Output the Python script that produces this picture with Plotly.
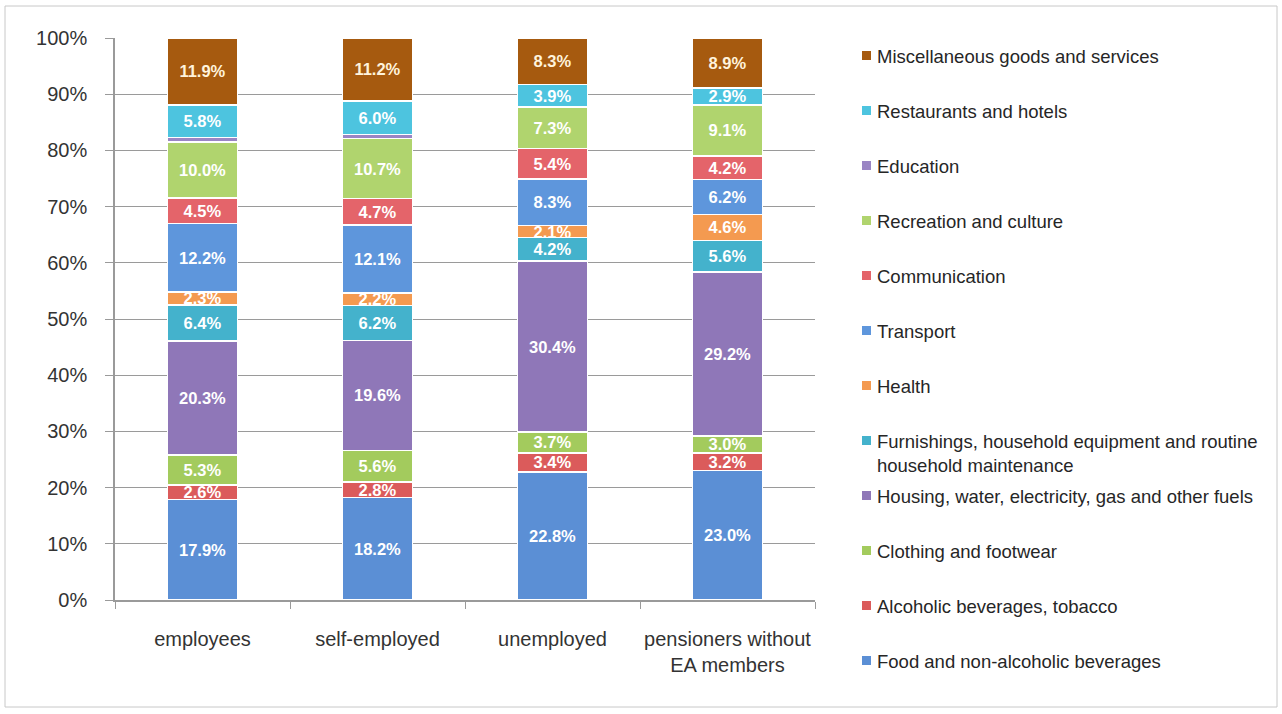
import plotly.graph_objects as go

# Household groups on the x axis
groups = ["employees", "self-employed", "unemployed", "pensioners without<br>EA members"]

# Consumption categories, stacked from the bottom up
categories = [
    "Food and non-alcoholic beverages",
    "Alcoholic beverages, tobacco",
    "Clothing and footwear",
    "Housing, water, electricity, gas and other fuels",
    "Furnishings, household equipment and routine<br>household maintenance",
    "Health",
    "Transport",
    "Communication",
    "Recreation and culture",
    "Education",
    "Restaurants and hotels",
    "Miscellaneous goods and services",
]

# Share of expenditure (%) per category, one value per group
food = [17.9, 18.2, 22.8, 23.0]
alcohol = [2.6, 2.8, 3.4, 3.2]
clothing = [5.3, 5.6, 3.7, 3.0]
housing = [20.3, 19.6, 30.4, 29.2]
furnishings = [6.4, 6.2, 4.2, 5.6]
health = [2.3, 2.2, 2.1, 4.6]
transport = [12.2, 12.1, 8.3, 6.2]
communication = [4.5, 4.7, 5.4, 4.2]
recreation = [10.0, 10.7, 7.3, 9.1]
education = [0.8, 0.7, 0.2, 0.1]
restaurants = [5.8, 6.0, 3.9, 2.9]
misc = [11.9, 11.2, 8.3, 8.9]

series = [food, alcohol, clothing, housing, furnishings, health,
          transport, communication, recreation, education, restaurants, misc]
show_label = [True] * 9 + [False] + [True, True]

colors = ["#5B8FD5", "#DB5B5B", "#A3CB5D", "#8F77B8", "#44B2CC", "#F49A50",
          "#5E96DC", "#E4646A", "#B0D46E", "#9A85C4", "#4DC4DF", "#A65A0F"]
label_colors = ["white"] * 11 + ["#FFF3DC"]

# Plot area geometry in pixels
W, H = 1282, 714
L, R, T, B = 115, 815, 38, 600

fig = go.Figure()
for name, vals, col, lab, tcol in zip(categories, series, colors, show_label, label_colors):
    fig.add_trace(go.Bar(
        x=groups, y=vals, name=name,
        marker=dict(color=col, line=dict(color="white", width=1.5)),
        text=[f"{v:.1f}%" for v in vals] if lab else None,
        textposition="inside" if lab else "none",
        insidetextanchor="middle",
        textfont=dict(color=tcol, size=16.5, family="Liberation Sans, Arial", weight="bold"),
        showlegend=False,
        hoverinfo="skip",
    ))

fig.update_layout(
    barmode="stack",
    bargap=0.6,
    width=W, height=H,
    margin=dict(l=L, r=W - R, t=T, b=H - B, autoexpand=False),
    paper_bgcolor="white",
    plot_bgcolor="white",
    font=dict(family="Liberation Sans, Arial", color="#333333"),
    uniformtext=dict(minsize=16.5, mode="show"),
)

fig.update_yaxes(
    range=[0, 100],
    tickvals=list(range(0, 101, 10)),
    ticktext=[f"{v}%" for v in range(0, 101, 10)],
    ticks="outside", ticklen=8, tickcolor="#9a9a9a",
    showline=True, linecolor="#9a9a9a", linewidth=1.5,
    showgrid=True, gridcolor="#9a9a9a", gridwidth=1.2,
    tickfont=dict(size=20, color="#333333"),
    ticklabelstandoff=14,
    zeroline=False,
    automargin=False,
)
fig.update_xaxes(
    ticks="outside", tickson="boundaries", ticklen=7, tickcolor="#9a9a9a",
    showline=True, linecolor="#9a9a9a", linewidth=1.5,
    tickfont=dict(size=20, color="#333333"),
    tickangle=0,
    ticklabelstandoff=20,
    automargin=False,
)

def px_x(px):
    return (px - L) / (R - L)

def px_y(py):
    return (B - py) / (B - T)

# Outer frame around the whole figure
fig.add_shape(type="rect", xref="paper", yref="paper",
              x0=px_x(5), x1=px_x(1277), y0=px_y(707), y1=px_y(6),
              line=dict(color="#c8c8c8", width=1), layer="below")

# Legend, listed top-down from the last stacked series
for i, idx in enumerate(range(len(categories) - 1, -1, -1)):
    yc = 56 + 55 * i
    fig.add_shape(type="rect", xref="paper", yref="paper",
                  x0=px_x(862), x1=px_x(871), y0=px_y(yc + 4), y1=px_y(yc - 5),
                  fillcolor=colors[idx], line=dict(width=0))
    fig.add_annotation(xref="paper", yref="paper",
                       x=px_x(875), y=px_y(yc - 12),
                       xanchor="left", yanchor="top", align="left",
                       text=categories[idx], showarrow=False,
                       font=dict(size=18.5, color="#262626"))

fig.write_html("out.html")
